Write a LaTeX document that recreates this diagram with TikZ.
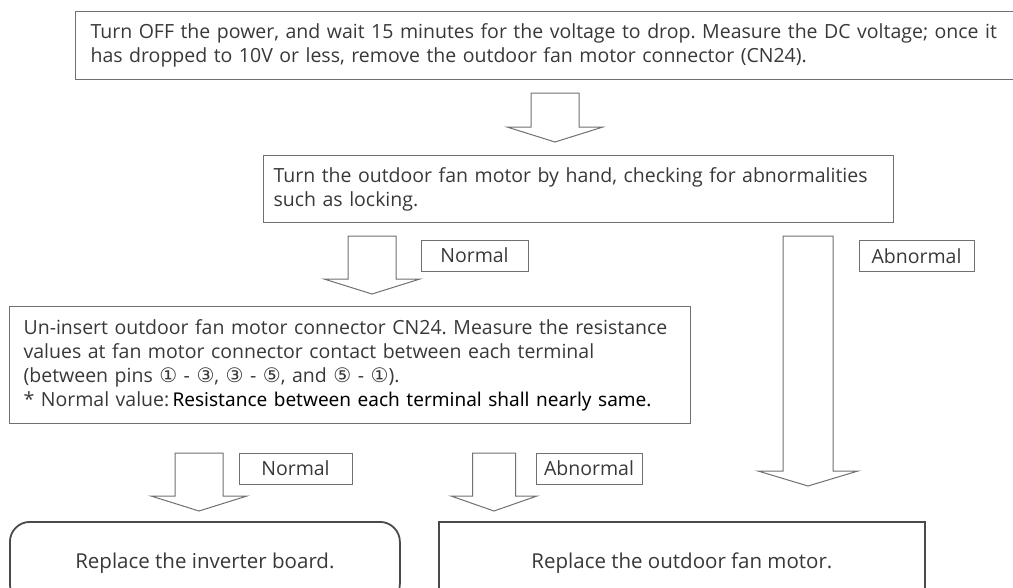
\documentclass[tikz,border=0pt]{standalone}
\usepackage{fontspec}
\setmainfont{Open Sans}
\newfontfamily\heavyfont{Noto Sans}
\newfontfamily\symfont{DejaVu Sans}
\usepackage{xcolor}
\usepackage{tikz}
\usetikzlibrary{calc}
\frenchspacing

\definecolor{txtgray}{HTML}{383838}
\definecolor{linegray}{HTML}{707070}
\definecolor{edgedark}{HTML}{4A4A4A}

\newcommand{\pin}[1]{{\symfont\fontsize{20pt}{24pt}\selectfont #1}}
\newcommand{\blockarrow}[3][24]{%
  \draw[blk] ($(#2)+(-#1,0)$) -- ($(#3)+(-#1,-15)$) -- ($(#3)+(-2*#1,-15)$) -- (#3)
    -- ($(#3)+(2*#1,-15)$) -- ($(#3)+(#1,-15)$) -- ($(#2)+(#1,0)$) -- cycle;}

\begin{document}
\begin{tikzpicture}[x=1pt, y=-1pt, font=\fontsize{19.5pt}{24pt}\selectfont, text=txtgray,
  box/.style={draw=linegray, line width=1.2pt, anchor=north west, align=left, inner ysep=0pt},
  endbox/.style={draw=edgedark, line width=1.8pt, anchor=north west, align=center, font=\fontsize{20.5pt}{24pt}\selectfont},
  tag/.style={draw=linegray, line width=1pt, minimum height=31pt, inner sep=0pt},
  blk/.style={draw=linegray, line width=1pt, fill=white}]
\useasboundingbox (0,0) rectangle (1013,587);

\node[box, minimum width=955pt, minimum height=68pt, text width=925pt, inner xsep=15pt] (power) at (75,11)
  {Turn OFF the power, and wait 15 minutes for the voltage to drop. Measure the DC voltage; once it\\
   has dropped to 10V or less, remove the outdoor fan motor connector (CN24).};
\node[box, minimum width=630pt, minimum height=67pt, text width=610pt, inner xsep=10pt] (hand) at (263,155)
  {Turn the outdoor fan motor by hand, checking for abnormalities\\
   such as locking.};
\node[box, minimum width=681pt, minimum height=117pt, text width=653pt, inner xsep=14pt] (measure) at (9,306)
  {Un-insert outdoor fan motor connector CN24. Measure the resistance\\
   values at fan motor connector contact between each terminal\\
   (between pins \pin{①} - \pin{③}, \pin{③} - \pin{⑤}, and \pin{⑤} - \pin{①}).\\
   {*} Normal value:\,{\heavyfont\fontsize{19pt}{24pt}\selectfont\color{black}Resistance between each terminal shall nearly same.}};
\node[endbox, rounded corners=20pt, minimum width=390pt, minimum height=82pt] (board) at (9,521)
  {Replace the inverter board.};
\node[endbox, minimum width=486pt, minimum height=82pt] (fan) at (438,521)
  {Replace the outdoor fan motor.};

\node[tag, minimum width=107pt] (ok1) at (474.5,255.5) {Normal};
\node[tag, minimum width=115pt] (ng1) at (916.5,256) {Abnormal};
\node[tag, minimum width=113pt] (ok2) at (295.5,468.5) {Normal};
\node[tag, minimum width=106pt] (ng2) at (589,468.5) {Abnormal};

\coordinate (a1s) at (555,93);  \coordinate (a1e) at (555,142);
\coordinate (a2s) at (372,236); \coordinate (a2e) at (372,294);
\coordinate (a3s) at (808,236); \coordinate (a3e) at (808,486);
\coordinate (a4s) at (199,453); \coordinate (a4e) at (199,511);
\coordinate (a5s) at (494,453); \coordinate (a5e) at (494,511);

\blockarrow{a1s}{a1e}
\blockarrow{a2s}{a2e}
\blockarrow[25]{a3s}{a3e}
\blockarrow{a4s}{a4e}
\blockarrow[21.5]{a5s}{a5e}
\end{tikzpicture}
\end{document}
